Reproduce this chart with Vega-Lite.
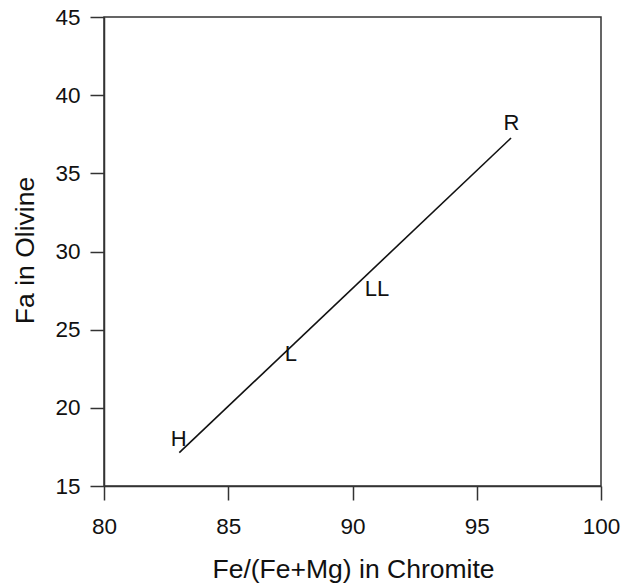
{
  "$schema": "https://vega.github.io/schema/vega-lite/v6.json",
  "width": 497,
  "height": 469,
  "autosize": {"type": "none"},
  "padding": {"left": 104, "top": 17, "right": 20, "bottom": 98},
  "background": "white",
  "config": {
    "font": "Liberation Sans",
    "view": {"stroke": "#333", "strokeWidth": 1.5},
    "axis": {
      "domainColor": "#333",
      "domainWidth": 1.5,
      "tickColor": "#333",
      "tickWidth": 1.5,
      "tickSize": 14,
      "grid": false,
      "labelFlush": false,
      "labelOverlap": false,
      "labelFont": "Liberation Sans",
      "labelFontSize": 22.5,
      "labelColor": "#111",
      "titleFont": "Liberation Sans",
      "titleFontSize": 26.5,
      "titleFontWeight": "normal",
      "titleColor": "#111"
    }
  },
  "datasets": {
    "line": [
      {"chromite": 83.03, "fa": 17.13},
      {"chromite": 96.38, "fa": 37.26}
    ],
    "labels": [
      {"chromite": 83.01, "fa": 18.03, "group": "H"},
      {"chromite": 87.52, "fa": 23.44, "group": "L"},
      {"chromite": 90.99, "fa": 27.6, "group": "LL"},
      {"chromite": 96.4, "fa": 38.25, "group": "R"}
    ]
  },
  "layer": [
    {
      "data": {"name": "line"},
      "mark": {"type": "line", "color": "#111", "strokeWidth": 1.6},
      "encoding": {
        "x": {
          "field": "chromite",
          "type": "quantitative",
          "scale": {"domain": [80, 100], "nice": false, "zero": false},
          "axis": {
            "title": "Fe/(Fe+Mg) in Chromite",
            "values": [80, 85, 90, 95, 100],
            "labelPadding": 15,
            "titleBaseline": "alphabetic",
            "titleX": 249,
            "titleY": 91
          }
        },
        "y": {
          "field": "fa",
          "type": "quantitative",
          "scale": {"domain": [15, 45], "nice": false, "zero": false},
          "axis": {
            "title": "Fa in Olivine",
            "values": [15, 20, 25, 30, 35, 40, 45],
            "labelPadding": 10,
            "titleBaseline": "alphabetic",
            "titleX": -71,
            "titleY": 233
          }
        }
      }
    },
    {
      "data": {"name": "labels"},
      "mark": {"type": "text", "font": "Liberation Sans", "fontSize": 22, "color": "#111", "align": "center", "baseline": "middle"},
      "encoding": {
        "x": {"field": "chromite", "type": "quantitative"},
        "y": {"field": "fa", "type": "quantitative"},
        "text": {"field": "group"}
      }
    }
  ]
}
